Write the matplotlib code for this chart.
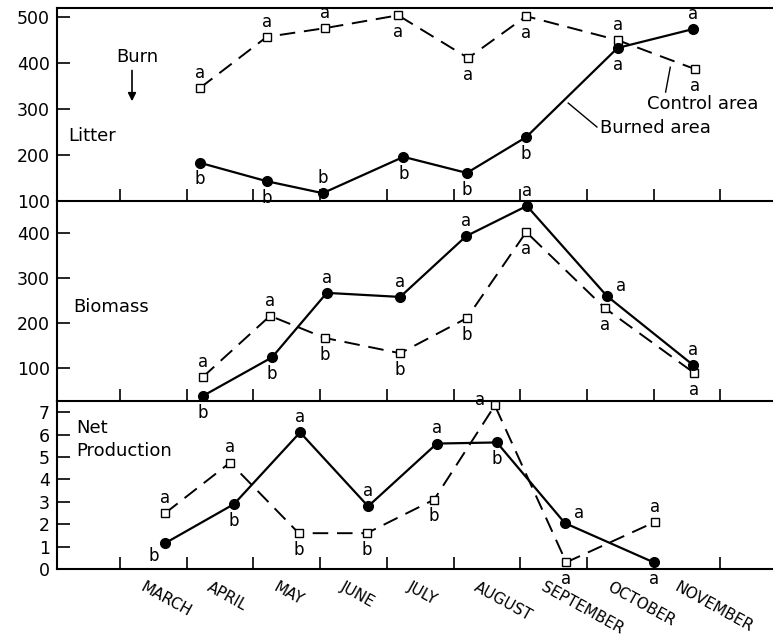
import matplotlib.pyplot as plt

plt.rcParams['font.family'] = ['DejaVu Sans']

# x is in months: 0 = 1 March, 1 = 1 April, ... 9 = 1 December
months = ["MARCH", "APRIL", "MAY", "JUNE", "JULY", "AUGUST",
          "SEPTEMBER", "OCTOBER", "NOVEMBER"]

# Litter
litter_burn_x = [1.20, 2.20, 3.04, 4.25, 5.20, 6.09, 7.46, 8.59]
litter_burn = [183, 143, 117, 196, 161, 239, 433, 474]
litter_burn_lab = ["b", "b", "b", "b", "b", "b", "a", "a"]
litter_burn_pos = ["below", "below", "above", "below", "below", "below", "below", "above"]
litter_ctrl_x = [1.20, 2.20, 3.07, 4.17, 5.22, 6.09, 7.46, 8.62]
litter_ctrl = [346, 457, 476, 504, 411, 502, 450, 387]
litter_ctrl_lab = ["a", "a", "a", "a", "a", "a", "a", "a"]
litter_ctrl_pos = ["above", "above", "above", "below", "below", "below", "above", "below"]

# Biomass
bio_burn_x = [1.24, 2.28, 3.10, 4.20, 5.19, 6.10, 7.30, 8.59]
bio_burn = [38, 124, 267, 258, 393, 460, 260, 107]
bio_burn_lab = ["b", "b", "a", "a", "a", "a", "a", "a"]
bio_burn_pos = ["below", "below", "above", "above", "above", "above", "right", "above"]
bio_ctrl_x = [1.24, 2.25, 3.07, 4.20, 5.20, 6.09, 7.27, 8.61]
bio_ctrl = [80, 216, 167, 133, 211, 402, 233, 89]
bio_ctrl_lab = ["a", "a", "b", "b", "b", "a", "a", "a"]
bio_ctrl_pos = ["above", "above", "below", "below", "below", "below", "below", "below"]

# Net production
net_burn_x = [0.68, 1.71, 2.70, 3.72, 4.75, 5.65, 6.67, 8.00]
net_burn = [1.16, 2.9, 6.1, 2.8, 5.6, 5.65, 2.05, 0.3]
net_burn_lab = ["b", "b", "a", "a", "a", "b", "a", "a"]
net_burn_pos = ["lowleft", "below", "above", "above", "above", "below", "right", "below"]
net_ctrl_x = [0.68, 1.65, 2.68, 3.70, 4.71, 5.62, 6.69, 8.02]
net_ctrl = [2.5, 4.75, 1.6, 1.6, 3.1, 7.3, 0.3, 2.1]
net_ctrl_lab = ["a", "a", "b", "b", "b", "a", "a", "a"]
net_ctrl_pos = ["above", "above", "below", "below", "below", "left", "below", "above"]

offsets = {"above": (0, 11), "below": (0, -12), "right": (10, 7),
           "left": (-11, 4), "lowleft": (-8, -9)}

fig = plt.figure(figsize=(7.73, 6.36), dpi=100)
fig.patch.set_facecolor("white")

left, width = 0.0737, 0.9263
ax1 = fig.add_axes([left, 0.684, width, 0.3035])
ax2 = fig.add_axes([left, 0.3695, width, 0.3145])
ax3 = fig.add_axes([left, 0.1053, width, 0.2642])


def draw_series(ax, bx, by, blab, bpos, cx, cy, clab, cpos):
    ax.plot(cx, cy, color="black", lw=1.4, ls=(0, (8, 4.5)), marker="s", ms=6,
            mfc="white", mec="black", mew=1.0, clip_on=False, zorder=3)
    ax.plot(bx, by, color="black", lw=1.6, marker="o", ms=7,
            mfc="black", mec="black", clip_on=False, zorder=4)
    for xs, ys, labs, poss in [(bx, by, blab, bpos), (cx, cy, clab, cpos)]:
        for x, y, lab, pos in zip(xs, ys, labs, poss):
            ax.annotate(lab, (x, y), xytext=offsets[pos], textcoords="offset points",
                        ha="center", va="center", fontsize=12,
                        annotation_clip=False, zorder=5)


draw_series(ax1, litter_burn_x, litter_burn, litter_burn_lab, litter_burn_pos,
            litter_ctrl_x, litter_ctrl, litter_ctrl_lab, litter_ctrl_pos)
draw_series(ax2, bio_burn_x, bio_burn, bio_burn_lab, bio_burn_pos,
            bio_ctrl_x, bio_ctrl, bio_ctrl_lab, bio_ctrl_pos)
draw_series(ax3, net_burn_x, net_burn, net_burn_lab, net_burn_pos,
            net_ctrl_x, net_ctrl, net_ctrl_lab, net_ctrl_pos)

ax1.set_ylim(100, 520)
ax1.set_yticks([100, 200, 300, 400, 500])
ax2.set_ylim(27, 471)
ax2.set_yticks([100, 200, 300, 400])
ax3.set_ylim(0, 7.5)
ax3.set_yticks(range(8))

for ax in [ax1, ax2, ax3]:
    ax.patch.set_visible(False)
    ax.set_xlim(-0.945, 9.79)
    ax.set_xticks(range(10))
    ax.set_xticklabels([])
    ax.spines["right"].set_visible(False)
    ax.spines["top"].set_visible(ax is ax1)
    for s in ["left", "bottom", "top"]:
        ax.spines[s].set_linewidth(1.5)
    ax.tick_params(axis="x", direction="in", length=9, width=1.2)
    ax.tick_params(axis="y", direction="in", length=9, width=1.2, labelsize=12.5, pad=5)

# month labels
for i, m in enumerate(months):
    ax3.text(i + 0.38, -0.06, m, transform=ax3.get_xaxis_transform(),
             rotation=-29, rotation_mode="anchor", ha="left", va="top", fontsize=11)

# panel labels and notes
ax1.text(-0.42, 241, "Litter", fontsize=13, ha="center", va="center")
ax1.text(0.26, 413, "Burn", fontsize=13, ha="center", va="center")
ax1.annotate("", xy=(0.18, 311), xytext=(0.18, 390),
             arrowprops=dict(arrowstyle="-|>", color="black", lw=1.2, mutation_scale=12))
ax1.text(7.9, 311, "Control area", fontsize=13, ha="left", va="center")
ax1.plot([8.25, 8.18], [391, 337], color="black", lw=1.0)
ax1.text(7.2, 259, "Burned area", fontsize=13, ha="left", va="center")
ax1.plot([6.72, 7.15], [313, 261], color="black", lw=1.0)

ax2.text(-0.7, 236, "Biomass", fontsize=13, ha="left", va="center")
ax3.text(-0.66, 5.78, "Net\nProduction", fontsize=13, ha="left", va="center",
         linespacing=1.4)

plt.savefig("out.png", dpi=100, facecolor="white")
